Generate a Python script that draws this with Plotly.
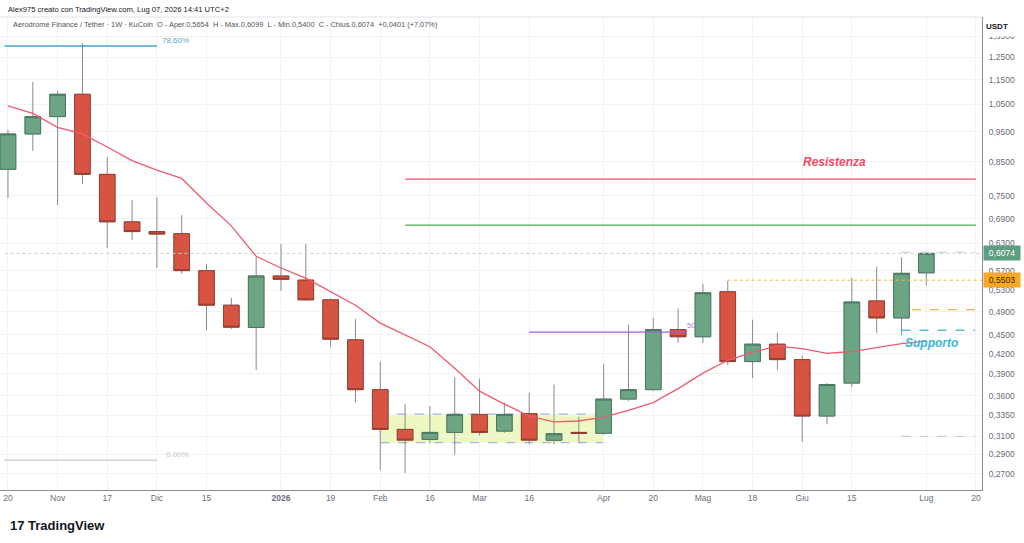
import math
import plotly.graph_objects as go

# ---------------- data ----------------
dates = ["2025-10-20", "2025-10-27", "2025-11-03", "2025-11-10", "2025-11-17", "2025-11-24",
         "2025-12-01", "2025-12-08", "2025-12-15", "2025-12-22", "2025-12-29", "2026-01-05",
         "2026-01-12", "2026-01-19", "2026-01-26", "2026-02-02", "2026-02-09", "2026-02-16",
         "2026-02-23", "2026-03-02", "2026-03-09", "2026-03-16", "2026-03-23", "2026-03-30",
         "2026-04-06", "2026-04-13", "2026-04-20", "2026-04-27", "2026-05-04", "2026-05-11",
         "2026-05-18", "2026-05-25", "2026-06-01", "2026-06-08", "2026-06-15", "2026-06-22",
         "2026-06-29", "2026-07-06"]
opens = [0.827, 0.942, 1.004, 1.090, 0.812, 0.682, 0.658, 0.653, 0.570, 0.502, 0.4625, 0.559,
         0.5506, 0.512, 0.442, 0.368, 0.318, 0.3065, 0.3145, 0.336, 0.316, 0.337, 0.3055, 0.3145,
         0.3135, 0.3555, 0.368, 0.459, 0.447, 0.5275, 0.408, 0.435, 0.411, 0.334, 0.377, 0.510,
         0.479, 0.5654]
highs = [0.956, 1.140, 1.104, 1.316, 0.866, 0.739, 0.746, 0.699, 0.584, 0.516, 0.601, 0.6285,
         0.6285, 0.515, 0.477, 0.408, 0.349, 0.3465, 0.385, 0.383, 0.351, 0.364, 0.375, 0.333,
         0.404, 0.467, 0.479, 0.496, 0.543, 0.549, 0.476, 0.454, 0.417, 0.377, 0.555, 0.578,
         0.5985, 0.6099]
lows = [0.744, 0.885, 0.725, 0.784, 0.620, 0.638, 0.576, 0.564, 0.458, 0.460, 0.3955, 0.529,
        0.510, 0.431, 0.351, 0.274, 0.271, 0.302, 0.290, 0.311, 0.314, 0.301, 0.301, 0.303,
        0.312, 0.353, 0.366, 0.437, 0.437, 0.403, 0.384, 0.396, 0.304, 0.324, 0.372, 0.4535,
        0.450, 0.5400]
closes = [0.942, 1.004, 1.090, 0.812, 0.682, 0.658, 0.652, 0.570, 0.502, 0.463, 0.559, 0.552,
          0.512, 0.443, 0.368, 0.318, 0.3057, 0.3145, 0.336, 0.3145, 0.336, 0.3057, 0.313, 0.3135,
          0.3555, 0.368, 0.459, 0.447, 0.5255, 0.408, 0.435, 0.411, 0.334, 0.375, 0.508, 0.479,
          0.5644, 0.6074]
ma_values = [1.044, 1.016, 0.965, 0.942, 0.898, 0.854, 0.825, 0.800, 0.731, 0.672, 0.601, 0.5755,
             0.5546, 0.527, 0.502, 0.470, 0.450, 0.431, 0.398, 0.366, 0.349, 0.334, 0.327, 0.328,
             0.3328, 0.341, 0.351, 0.3695, 0.391, 0.410, 0.4225, 0.432, 0.428, 0.4206, 0.4234,
             0.430, 0.436, 0.440]

tick_dates = ["2025-10-20", "2025-11-03", "2025-11-17", "2025-12-01", "2025-12-15", "2026-01-05",
              "2026-01-19", "2026-02-02", "2026-02-16", "2026-03-02", "2026-03-16", "2026-04-06",
              "2026-04-20", "2026-05-04", "2026-05-18", "2026-06-01", "2026-06-15", "2026-07-06",
              "2026-07-20"]
tick_labels = ["20", "Nov", "17", "Dic", "15", "<b>2026</b>", "19", "Feb", "16", "Mar", "16",
               "Apr", "20", "Mag", "18", "Giu", "15", "Lug", "20"]
price_ticks = [1.35, 1.25, 1.15, 1.05, 0.95, 0.85, 0.75, 0.69, 0.63, 0.57, 0.53, 0.49, 0.45,
               0.42, 0.39, 0.36, 0.335, 0.31, 0.29, 0.27]
price_tick_labels = [f"{v:.4f}".replace(".", ",") for v in price_ticks]

# drawing levels
resistance_level = 0.798
green_level = 0.674
resist_span = ["2026-02-09", "2026-07-20"]
fib_top = 1.302
fib_bottom = 0.284
fib_span = ["2025-10-19", "2025-12-01"]
purple_level = 0.4547
purple_span = ["2026-03-16", "2026-04-29 12:00"]
last_price = 0.6074
orange_price = 0.5503
orange_span = ["2026-05-11", "2026-07-22"]
orange_dash_level = 0.494
orange_dash_span = ["2026-07-02", "2026-07-19 18:00"]
support_level = 0.458
support_span = ["2026-06-29", "2026-07-19 18:00"]
range_hi_level = 0.6099
range_lo_level = 0.310
range_span = ["2026-06-29", "2026-07-19 18:00"]
box_x = ["2026-02-02", "2026-04-06"]
box_y = [0.3028, 0.3364]

UP = "#6BA583"
DOWN = "#D75442"
UP_BORDER = "#3f6f57"
DOWN_BORDER = "#8c3326"
WICK = "#8a8a8e"

fig = go.Figure()

# last price dotted line
fig.add_trace(go.Scatter(x=["2025-10-19", "2026-07-22"], y=[last_price, last_price], mode="lines",
                         line=dict(color="#c9ccd4", width=1, dash="dot"), hoverinfo="skip",
                         showlegend=False))

# wicks (full range)
fig.add_trace(go.Candlestick(
    x=dates, open=opens, high=highs, low=lows, close=closes,
    increasing=dict(line=dict(color=WICK, width=1), fillcolor="rgba(0,0,0,0)"),
    decreasing=dict(line=dict(color=WICK, width=1), fillcolor="rgba(0,0,0,0)"),
    whiskerwidth=0, hoverinfo="skip", showlegend=False))

# bodies
body_hi = [max(o, c) for o, c in zip(opens, closes)]
body_lo = [min(o, c) for o, c in zip(opens, closes)]
fig.add_trace(go.Candlestick(
    x=dates, open=opens, high=body_hi, low=body_lo, close=closes,
    increasing=dict(line=dict(color=UP_BORDER, width=0.8), fillcolor=UP),
    decreasing=dict(line=dict(color=DOWN_BORDER, width=0.8), fillcolor=DOWN),
    whiskerwidth=0, showlegend=False, name="AEROUSDT"))

# moving average
fig.add_trace(go.Scatter(x=dates, y=ma_values, mode="lines",
                         line=dict(color="#ee5a6f", width=1.3), hoverinfo="skip", showlegend=False))

def hline(span, level, color, width=1, dash="solid"):
    fig.add_trace(go.Scatter(x=span, y=[level, level], mode="lines",
                             line=dict(color=color, width=width, dash=dash),
                             hoverinfo="skip", showlegend=False))

hline(resist_span, resistance_level, "#ee4d5f", 1.3)
hline(resist_span, green_level, "#4caf50", 1.3)
hline(fib_span, fib_top, "#4a9fd1", 1.5)
hline(fib_span, fib_bottom, "#b8bcc6", 1)
hline(purple_span, purple_level, "#a35bd6", 1.3)
hline(orange_span, orange_price, "#f5b342", 1, "dot")
hline(orange_dash_span, orange_dash_level, "#f5b342", 1.3, "dash")
hline(support_span, support_level, "#4cc3d9", 1.5, "dash")
hline(range_span, range_hi_level, "#c4c7cf", 1, "dash")
hline(range_span, range_lo_level, "#c4c7cf", 1, "dash")

L = math.log10
FONT = "Liberation Sans, Arial, sans-serif"
ann = []
ann.append(dict(text="<b><i>Resistenza</i></b>", x="2026-06-10", y=L(0.85), xref="x", yref="y",
                showarrow=False, font=dict(family=FONT, size=12, color="#ee4d5f"),
                xanchor="center", yanchor="middle"))
ann.append(dict(text="<b><i>Supporto</i></b>", x="2026-07-07 12:00", y=L(0.437), xref="x", yref="y",
                showarrow=False, font=dict(family=FONT, size=12, color="#3ab7d6"),
                xanchor="center", yanchor="middle"))
ann.append(dict(text="78,60%", x="2025-12-02", y=L(1.33), xref="x", yref="y", showarrow=False,
                font=dict(family=FONT, size=8, color="#5aa6d6"), xanchor="left", yanchor="middle"))
ann.append(dict(text="0,00%", x="2025-12-03", y=L(0.2905), xref="x", yref="y", showarrow=False,
                font=dict(family=FONT, size=8, color="#c3c6ce"), xanchor="left", yanchor="middle"))
ann.append(dict(text="50", x="2026-04-29", y=L(0.466), xref="x", yref="y", showarrow=False,
                font=dict(family=FONT, size=7.5, color="#b27be0"), xanchor="left", yanchor="middle"))
# price boxes on axis
ann.append(dict(text=f"{last_price:.4f}".replace(".", ","), x=1, y=L(last_price), xref="paper",
                yref="y", showarrow=False, xanchor="left", yanchor="middle", xshift=1,
                font=dict(family=FONT, size=8.5, color="white"), bgcolor="#5e9e80",
                borderpad=2, width=32))
ann.append(dict(text=f"{orange_price:.4f}".replace(".", ","), x=1, y=L(orange_price), xref="paper",
                yref="y", showarrow=False, xanchor="left", yanchor="middle", xshift=1,
                font=dict(family=FONT, size=8.5, color="#3a2a00"), bgcolor="#f7a825",
                borderpad=2, width=32))
ann.append(dict(text="<b>USDT</b>", x=1, y=1, xref="paper", yref="paper", showarrow=False,
                xanchor="left", yanchor="top", xshift=2, yshift=-3, bgcolor="white",
                font=dict(family=FONT, size=8, color="#131722"), width=34, height=13,
                align="left", valign="top"))
# headers
ann.append(dict(text="Alex975 creato con TradingView.com, Lug 07, 2026 14:41 UTC+2", x=6, y=9,
                xref="paper", yref="paper", showarrow=False, xanchor="left", yanchor="middle",
                font=dict(family=FONT, size=7.6, color="#131722")))
ann.append(dict(text="Aerodrome Finance / Tether · 1W · KuCoin  O - Aper.0,5654  H - Max.0,6099  "
                     "L - Min.0,5400  C - Chius.0,6074  +0,0401 (+7,07%)",
                x=11, y=25, xref="paper", yref="paper", showarrow=False, xanchor="left",
                yanchor="middle", font=dict(family=FONT, size=7.4, color="#50535e")))
ann.append(dict(text="<b>17 TradingView</b>", x=8, y=525, xref="paper", yref="paper",
                showarrow=False, xanchor="left", yanchor="middle",
                font=dict(family=FONT, size=13, color="#131722")))

# convert pixel-positioned paper annotations
W, H = 1024, 543
ML, MR, MT, MB = 0, 42, 17, 53
pw, ph = W - ML - MR, H - MT - MB
for a in ann:
    if a["xref"] == "paper" and a["yref"] == "paper" and a["x"] > 1.5:
        a["x"] = (a["x"] - ML) / pw
        a["y"] = 1 - (a["y"] - MT) / ph

fig.update_layout(
    width=W, height=H, margin=dict(l=ML, r=MR, t=MT, b=MB),
    paper_bgcolor="white", plot_bgcolor="white", boxgap=0.1,
    annotations=ann, showlegend=False,
    font=dict(family=FONT, color="#4a4d57", size=8.5),
    xaxis=dict(type="date", range=["2025-10-17 18:00", "2026-07-21 17:00"],
               tickvals=tick_dates, ticktext=tick_labels, showgrid=True, gridcolor="#f0f2f6",
               zeroline=False, showline=True, linecolor="#8a8d96", linewidth=1,
               rangeslider=dict(visible=False), ticks="", tickfont=dict(size=8.5, color="#6a6d78"),
               fixedrange=True),
    yaxis=dict(type="log", range=[L(0.2545), L(1.448)], side="right", tickvals=price_ticks,
               ticktext=price_tick_labels, showgrid=True, gridcolor="#f0f2f6", zeroline=False,
               showline=True, linecolor="#8a8d96", linewidth=1, ticks="", ticklabelstandoff=4,
               tickfont=dict(size=8.5, color="#6a6d78"), fixedrange=True),
)
# consolidation box (below the candles)
fig.add_shape(type="rect", xref="x", yref="y", x0=box_x[0], x1=box_x[1], y0=box_y[0], y1=box_y[1],
              layer="below", fillcolor="rgba(222,243,140,0.55)",
              line=dict(color="#8fa4e0", width=1, dash="dash"))
# pane top border
fig.add_shape(type="line", xref="paper", yref="paper", x0=0, x1=1, y0=1, y1=1,
              line=dict(color="#e0e3eb", width=1))

fig.write_html("out.html")
